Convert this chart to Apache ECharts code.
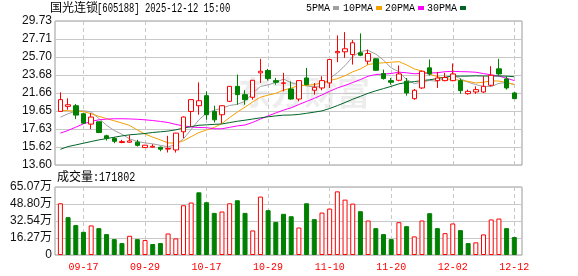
<!DOCTYPE html>
<html><head><meta charset="utf-8">
<script src="https://cdn.jsdelivr.net/npm/echarts@6/dist/echarts.min.js"></script>
<style>html,body{margin:0;padding:0;background:#fff}#c{width:578px;height:276px}</style>
</head><body><div id="c"></div>
<script>
// ---- data ----
const dates = ['09-12','09-15','09-16','09-17','09-18','09-19','09-22','09-23','09-24','09-25','09-26','09-29','09-30',
 '10-09','10-10','10-13','10-14','10-15','10-16','10-17','10-20','10-21','10-22','10-23','10-24','10-27','10-28','10-29','10-30','10-31',
 '11-03','11-04','11-05','11-06','11-07','11-10','11-11','11-12','11-13','11-14','11-17','11-18','11-19','11-20','11-21',
 '11-24','11-25','11-26','11-27','11-28','12-01','12-02','12-03','12-04','12-05','12-08','12-09','12-10','12-11','12-12'];
const openP = [19.60,20.17,20.24,19.34,18.18,18.44,16.87,16.57,16.12,16.15,16.16,15.55,15.59,15.59,15.38,15.29,17.32,19.60,20.24,21.37,
 19.60,19.23,20.73,22.41,21.48,21.18,23.92,24.18,23.05,22.75,22.12,20.99,23.35,21.97,22.23,22.79,26.17,26.28,25.98,26.17,
 25.23,25.49,23.84,23.05,23.09,22.98,21.03,22.23,24.48,23.05,23.05,23.05,23.05,21.59,21.78,21.78,22.53,24.37,23.24,21.67];
const closeP = [20.92,20.35,19.19,18.29,18.97,17.24,16.57,16.25,16.22,16.30,15.80,15.82,15.70,15.37,15.45,17.17,18.97,20.92,20.80,19.23,
 18.66,20.24,22.41,21.48,20.92,23.09,24.10,23.28,22.87,22.80,20.99,23.05,22.60,22.30,23.05,25.42,26.32,26.62,27.29,25.90,
 26.09,24.21,23.28,22.87,23.80,21.67,21.97,24.10,23.80,23.35,23.40,23.80,21.93,21.85,22.04,22.41,23.65,23.80,22.23,21.03];
const lowP = [19.60,19.79,18.74,18.20,17.62,17.17,16.34,16.04,16.04,16.12,15.67,15.51,15.55,15.14,15.00,14.99,16.60,17.90,19.23,18.66,
 18.36,18.29,20.65,20.35,20.35,20.92,22.79,23.05,22.60,21.85,20.91,20.73,22.53,21.48,21.97,22.23,25.12,25.60,24.85,25.79,
 24.85,24.15,23.17,22.60,22.98,21.37,20.91,22.12,23.62,22.23,22.98,22.98,21.59,21.48,21.56,21.67,22.41,23.62,22.04,21.03];
const highP = [21.74,21.07,20.43,19.40,19.42,18.44,16.99,16.72,16.42,16.94,16.42,15.85,15.93,15.67,16.87,17.20,19.04,20.92,22.86,21.85,
 20.24,20.30,22.45,23.73,21.97,23.12,25.49,24.37,23.35,23.92,22.97,23.10,24.48,22.79,23.54,25.45,28.12,28.49,27.59,28.34,
 26.54,25.55,24.29,23.35,24.74,23.35,22.12,24.18,25.42,24.03,23.92,24.97,23.28,22.04,22.41,23.54,24.67,25.49,23.54,21.78];
const ma5 = [18.96,19.34,19.64,19.68,19.54,18.81,18.05,17.46,17.05,16.52,16.23,16.08,15.97,15.80,15.63,15.90,16.53,17.58,18.66,19.42,
 19.72,19.97,20.27,20.40,20.74,21.63,22.40,22.57,22.85,23.23,22.81,22.60,22.46,22.35,22.40,23.28,23.94,24.74,25.74,26.31,
 26.44,26.02,25.35,24.47,24.05,23.17,22.72,22.88,23.07,22.98,23.32,23.69,23.26,22.87,22.60,22.41,22.38,22.75,22.83,22.62];
const ma10 = [19.72,19.68,19.64,19.57,19.35,19.05,18.80,18.55,18.30,18.03,17.52,17.07,16.72,16.42,16.07,16.07,16.31,16.77,17.23,17.52,
 17.81,18.25,18.92,19.53,20.08,20.67,21.19,21.42,21.63,21.99,22.22,22.50,22.52,22.60,22.81,23.05,23.27,23.60,24.04,24.35,
 24.86,24.98,25.05,25.11,25.18,24.81,24.37,24.12,23.77,23.51,23.25,23.20,23.07,22.97,22.79,22.87,23.03,23.00,22.85,22.61];
const ma20 = [17.17,17.47,17.84,18.21,18.48,18.66,18.74,18.78,18.78,18.76,18.72,18.66,18.58,18.48,18.36,18.14,17.98,17.86,17.80,17.78,
 17.66,17.66,17.82,17.98,18.08,18.37,18.75,19.10,19.43,19.75,20.01,20.38,20.72,21.07,21.45,21.86,22.23,22.51,22.84,23.17,
 23.54,23.74,23.78,23.85,24.00,23.93,23.82,23.86,23.91,23.93,24.05,24.09,24.06,24.04,23.99,23.84,23.70,23.56,23.31,23.06];
const ma30 = [15.36,15.67,15.85,16.04,16.23,16.41,16.56,16.71,16.86,16.98,17.05,17.13,17.24,17.32,17.40,17.54,17.73,17.90,18.05,18.10,
 18.15,18.20,18.35,18.50,18.62,18.75,18.88,19.00,19.10,19.18,19.20,19.27,19.39,19.52,19.66,19.93,20.25,20.60,20.97,21.29,
 21.63,21.91,22.16,22.41,22.69,22.84,22.94,23.05,23.15,23.28,23.44,23.56,23.55,23.56,23.59,23.57,23.56,23.57,23.55,23.49];
const volume = [49.5,36.2,28.6,22.2,28.3,25.7,20.0,15.2,11.4,18.4,15.2,14.3,10.5,11.4,20.6,15.9,47.6,50.2,60.0,50.5,
 40.3,41.6,49.5,52.4,40.3,23.5,55.9,42.9,31.7,39.4,37.1,26.3,49.5,34.3,40.6,44.4,60.9,53.0,49.2,41.9,
 33.0,25.7,20.0,15.2,31.4,27.6,17.8,33.0,40.0,25.7,20.9,30.2,23.8,11.4,12.1,19.7,34.0,34.9,25.7,17.18];
const volUp = [1,0,0,0,1,0,0,0,0,1, 0,1,0,0,1,1,1,1,0,0, 0,1,1,0,0,1,1,0,0,0,
 0,1,0,0,1,1,1,1,1,0, 1,0,0,0,1,0,1,1,0,0, 1,1,0,0,1,1,1,1,0,0];
const priceTicks = ['13.60','15.62','17.63','19.65','21.66','23.68','25.70','27.71','29.73'];
const volTicks = ['0','16.27万','32.54万','48.80万','65.07万'];
const maNames = ['5PMA','10PMA','20PMA','30PMA'];
const priceMin = 13.60, priceMax = 29.73, volMax = 65.07;
const stockName = '国光连锁', stockInfo = '[605188] 2025-12-12 15:00';
const volLabel = '成交量', lastVolume = '171802';

// ---- chart ----
const RED = '#ff0000', GREEN = '#008000';
const maColors = ['#a0a0a0', '#f5a000', '#ff00ff', '#006428'];
const maData = [ma5, ma10, ma20, ma30];
const mono = "'Liberation Mono','DejaVu Sans Mono',monospace";
const cjk = "'Noto Sans CJK SC',sans-serif";
const labelIdx = (i) => i % 8 === 3;

const candles = dates.map((d, i) => [openP[i], closeP[i], lowP[i], highP[i]]);
const volData = volume.map((v, i) => ({
  value: v,
  itemStyle: volUp[i] ? { color: '#fff', borderColor: RED, borderWidth: 1 }
                      : { color: GREEN, borderColor: GREEN, borderWidth: 1 }
}));

const legendLeft = [306, 343, 385, 427];
const chart = echarts.init(document.getElementById('c'), null, { renderer: 'canvas' });
chart.setOption({
  animation: false,
  backgroundColor: '#fff',
  textStyle: { fontFamily: "'Liberation Sans',Arial,sans-serif" },
  legend: maNames.map((n, k) => ({
    data: [{ name: n, icon: 'rect' }], left: legendLeft[k], top: 3, padding: 0,
    align: 'right', itemWidth: 6, itemHeight: 4, selectedMode: false,
    textStyle: { fontFamily: mono, fontSize: 10, color: '#000', padding: [0, -2, 0, 0] }
  })),
  graphic: [
    { type: 'text', left: 50, top: 1, silent: true,
      style: { text: stockName, font: "12px 'Noto Sans CJK SC'", fill: '#000' } },
    { type: 'text', x: 97, y: 3, scaleX: 0.74, silent: true,
      style: { text: stockInfo, font: "12px 'Liberation Mono'", fill: '#000' } },
    { type: 'text', left: 57, top: 170, silent: true,
      style: { text: volLabel, font: "12px 'Noto Sans CJK SC'", fill: '#000' } },
    { type: 'text', x: 93, y: 172, scaleX: 0.84, silent: true,
      style: { text: ':' + lastVolume, font: "12px 'Liberation Mono'", fill: '#000' } },
    { type: 'text', left: 238, top: 76, z: -10, silent: true,
      style: { text: '东方财富', font: "bold 33px 'Noto Sans CJK SC'", fill: 'rgba(0,0,0,0.07)' } }
  ],
  grid: [
    { left: 55, right: 56, top: 21, height: 144, show: true, borderColor: '#999', borderWidth: 1 },
    { left: 60.4, right: 63.7, top: 21, height: 144 },
    { left: 55, right: 56, top: 187, height: 68, show: true, borderColor: '#999', borderWidth: 1 },
    { left: 60.4, right: 63.7, top: 187, height: 68 }
  ],
  xAxis: [
    { gridIndex: 0, type: 'value', min: 0, max: 1, show: false },
    { gridIndex: 1, type: 'category', data: dates, boundaryGap: false,
      axisLine: { show: false }, axisTick: { show: false }, axisLabel: { show: false },
      splitLine: { show: true, interval: labelIdx, lineStyle: { color: '#c8c8c8', type: [4, 3] } } },
    { gridIndex: 2, type: 'value', min: 0, max: 1, show: false },
    { gridIndex: 3, type: 'category', data: dates, boundaryGap: false,
      axisLine: { show: false }, axisTick: { show: false },
      axisLabel: { show: true, interval: labelIdx, color: RED, fontFamily: mono, fontSize: 10, margin: 7 },
      splitLine: { show: true, interval: labelIdx, lineStyle: { color: '#c8c8c8', type: [4, 3] } } }
  ],
  yAxis: [
    { gridIndex: 0, min: 0, max: 8, interval: 1,
      axisLine: { show: false }, axisTick: { show: false },
      axisLabel: { margin: 3, color: '#111', fontSize: 12, formatter: (v) => priceTicks[Math.round(v)] },
      splitLine: { show: true, lineStyle: { color: '#c8c8c8' } } },
    { gridIndex: 1, min: priceMin, max: priceMax, show: false, splitLine: { show: false } },
    { gridIndex: 2, min: 0, max: 4, interval: 1,
      axisLine: { show: false }, axisTick: { show: false },
      axisLabel: { margin: 3, color: '#111', fontSize: 12, fontFamily: "'Liberation Sans','Noto Sans CJK SC',sans-serif",
        formatter: (v) => volTicks[Math.round(v)] },
      splitLine: { show: true, lineStyle: { color: '#c8c8c8' } } },
    { gridIndex: 3, min: 0, max: volMax, show: false, splitLine: { show: false } }
  ],
  series: [
    { type: 'candlestick', name: 'K', xAxisIndex: 1, yAxisIndex: 1, data: candles,
      barWidth: 5, clip: false, z: 5,
      itemStyle: { color: '#fff', color0: GREEN, borderColor: RED, borderColor0: GREEN, borderWidth: 1 } },
    ...maNames.map((n, k) => ({
      type: 'line', name: n, xAxisIndex: 1, yAxisIndex: 1, data: maData[k],
      symbol: 'none', showSymbol: false, z: 3, silent: true,
      itemStyle: { color: maColors[k] }, lineStyle: { color: maColors[k], width: 1 }
    })),
    { type: 'bar', name: 'VOL', xAxisIndex: 3, yAxisIndex: 3, data: volData,
      barWidth: 5, clip: false, z: 5 }
  ]
});
</script>
</body></html>
